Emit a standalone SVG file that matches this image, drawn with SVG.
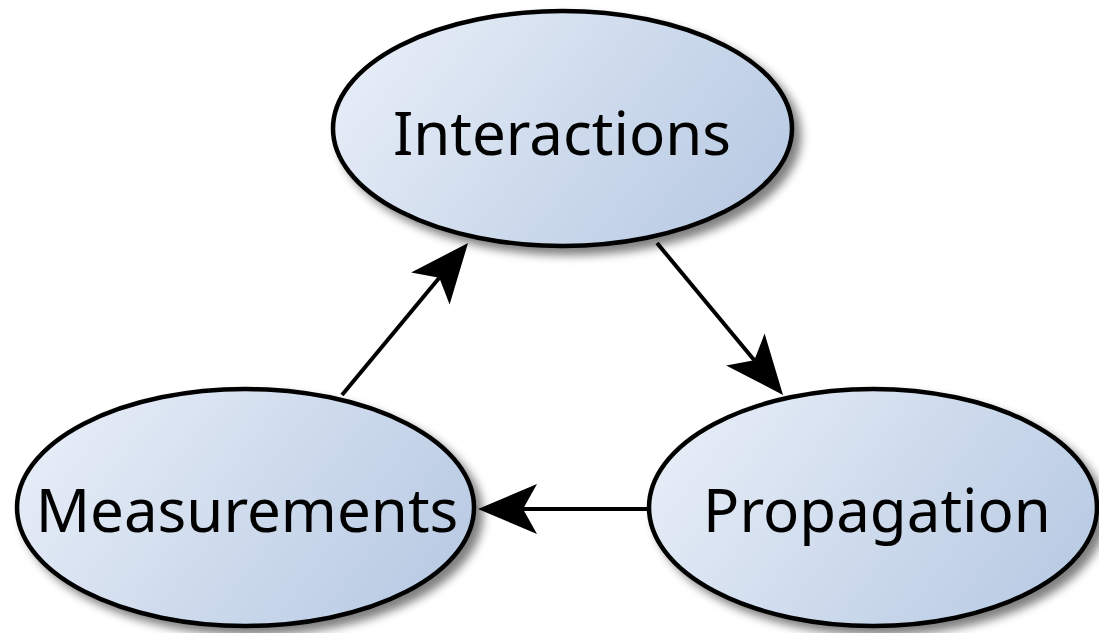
<svg xmlns="http://www.w3.org/2000/svg" width="1099" height="633" viewBox="0 0 1099 633">
  <style>
    .node ellipse { fill: url(#nodeFill); stroke: #000; stroke-width: 4.5; filter: url(#shadow); }
    .node text { font-family: "Noto Sans", "Open Sans", sans-serif; font-size: 60px; fill: #000; text-anchor: middle; }
    .edge { stroke: #000; stroke-width: 4; fill: none; marker-end: url(#arrow); }
  </style>
  <defs>
    <linearGradient id="nodeFill" x1="0" y1="0.3" x2="1" y2="0.7">
      <stop offset="0" stop-color="#e6edf7"/>
      <stop offset="1" stop-color="#b8cae3"/>
    </linearGradient>
    <filter id="shadow" x="-10%" y="-10%" width="125%" height="130%">
      <feGaussianBlur in="SourceAlpha" stdDeviation="5"/>
      <feOffset dx="7" dy="7" result="blur"/>
      <feComponentTransfer><feFuncA type="linear" slope="0.5"/></feComponentTransfer>
      <feMerge><feMergeNode/><feMergeNode in="SourceGraphic"/></feMerge>
    </filter>
    <marker id="arrow" markerUnits="userSpaceOnUse" markerWidth="70" markerHeight="60" refX="0" refY="0" viewBox="-20 -30 70 60" orient="auto" overflow="visible">
      <path d="M45,0 L-14,-25 L0,0 L-14,25 Z" fill="#000"/>
    </marker>
  </defs>

  <g id="node-interactions" class="node">
    <ellipse cx="562.5" cy="128.5" rx="229.5" ry="117.5"/>
    <text x="562" y="155">Interactions</text>
  </g>
  <g id="node-measurements" class="node">
    <ellipse cx="245.5" cy="507.5" rx="228.5" ry="118.5"/>
    <text x="247" y="532">Measurements</text>
  </g>
  <g id="node-propagation" class="node">
    <ellipse cx="873" cy="507.5" rx="224" ry="118.5"/>
    <text x="877" y="532">Propagation</text>
  </g>

  <g id="connectors">
    <line class="edge" x1="342" y1="395" x2="439.3" y2="277.7"/>
    <line class="edge" x1="657" y1="243" x2="754.3" y2="360.3"/>
    <line class="edge" x1="647" y1="509" x2="523" y2="509"/>
  </g>
</svg>
